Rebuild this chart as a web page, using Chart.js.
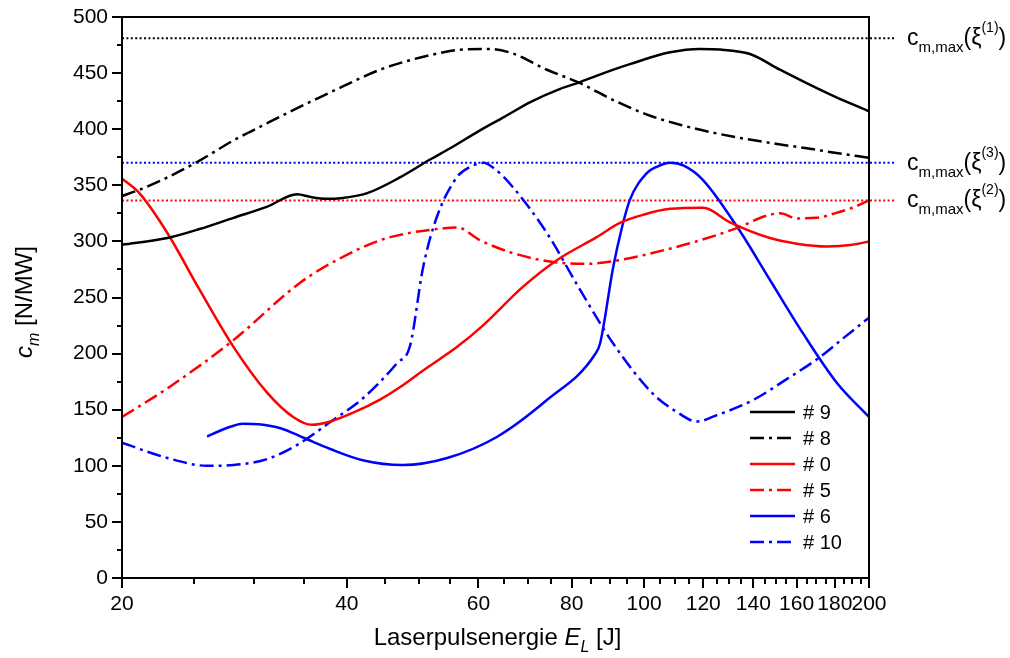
<!DOCTYPE html>
<html>
<head>
<meta charset="utf-8">
<script src="https://cdn.jsdelivr.net/npm/chart.js@4.4.1/dist/chart.umd.min.js"></script>
<style>
  html, body { margin: 0; padding: 0; background: #fff; }
</style>
</head>
<body>
<canvas id="chart" width="1010" height="658"></canvas>
<script>
const FONT = '"Liberation Sans", Arial, sans-serif';

// axis ticks
const xTicks = [20, 25, 30, 35, 40, 45, 50, 55, 60, 65, 70, 75, 80, 85, 90, 95, 100,
  105, 110, 115, 120, 125, 130, 135, 140, 145, 150, 155, 160, 165, 170, 175, 180,
  185, 190, 195, 200];
const xLabels = [20, 40, 60, 80, 100, 120, 140, 160, 180, 200];

// # 9
const e9 = [20, 23, 25.4, 28.2, 31.3, 34.3, 35.8, 37.6, 39.2, 42.6, 47.1, 51.7, 55, 60.3, 65, 70.3, 77.2, 82.1, 90, 95.7, 108.3, 118.8, 126.4, 138.6, 152, 165, 180, 200];
const c9 = [297, 303, 311, 321, 331, 342, 339.5, 338, 338.5, 343, 357, 373, 383, 399, 411, 424, 436, 442, 452, 458, 468.5, 471.5, 471, 467, 453, 441, 429, 416];
// # 8
const e8 = [20, 21.1, 23, 25.4, 28.2, 31, 33.9, 39.2, 44.3, 51.7, 57.2, 62.2, 66.7, 74.1, 82.1, 90.9, 100.9, 111.7, 122.5, 135, 150, 165, 180, 200];
const c8 = [340.5, 346, 357, 372, 390, 404, 417, 437, 453, 466, 471, 471.5, 467.5, 453, 441, 426, 413, 404, 397.5, 392, 387, 383, 379, 374.5];
// # 0
const e0 = [20, 21.1, 23, 25.4, 28.2, 31.3, 33.9, 35.9, 38, 41, 44.3, 47.1, 50.6, 56.2, 60.6, 68.8, 76.5, 86.5, 92.8, 100, 108.3, 120, 130.3, 147.4, 160, 175.7, 190, 200];
const c0 = [356, 343, 307.5, 257, 206, 165, 143.5, 136.5, 139.5, 148, 159, 170, 185, 206, 224, 259.5, 283.5, 304, 316.5, 324, 329, 330, 317, 303, 298, 295.5, 297, 300];
// # 5
const e5 = [20, 23, 28.2, 34.6, 39.2, 44.3, 48, 52.8, 56.2, 60.3, 66.7, 75.5, 83.9, 92.8, 106, 118.8, 134.4, 144.3, 152, 160.2, 170, 180, 190, 200];
const c5 = [143.5, 169, 212, 263, 285, 301, 307, 311, 312.5, 301, 289.6, 281.6, 280, 283.4, 292, 301, 313, 322, 325, 320.5, 321, 325, 330, 336.5];
// # 6
const e6 = [26, 27, 28, 29, 30.5, 32.6, 35, 38, 42, 47.5, 54.5, 63.5, 74.1, 86, 87.3, 90.9, 93.2, 95.7, 100.9, 104, 108.3, 113, 119.9, 133.2, 147.4, 163.2, 181.2, 200];
const c6 = [126, 131, 135, 137.5, 137, 133.5, 125, 115, 105, 100.7, 107, 125.7, 158.6, 199.6, 209, 277, 310, 337, 361, 366.5, 370, 367.5, 354.7, 313, 265.6, 218, 173.8, 143.5];
// # 10
const e10 = [20, 23, 26, 28.2, 31.3, 34.6, 38, 42, 46.7, 48.6, 50.6, 52.8, 56.2, 58.5, 60.9, 63, 66.7, 74.1, 82.1, 90.9, 102.8, 110, 117.7, 125, 139.9, 155, 172, 185, 200];
const c10 = [120.5, 107, 100, 100.7, 106, 120, 139, 160, 191.6, 207, 277, 322, 357.5, 366.5, 370, 365, 348.5, 307.5, 256.7, 209, 164, 149, 139.5, 145, 158.6, 177, 197, 214, 232];

// c_m,max reference levels, drawn past the right axis
const refE = [20, 217];
const cmax1 = 481;
const cmax3 = 370;
const cmax2 = 336.5;

const DASHDOT = [14, 5, 3, 5];
const DOTS = [2, 2.4];

function pts(xs, ys) {
  return xs.map((v, i) => ({ x: v, y: ys[i] }));
}
function curve(label, xs, ys, color, dash) {
  return {
    label: label, data: pts(xs, ys), borderColor: color, borderWidth: 2.5,
    borderDash: dash || [], pointRadius: 0, fill: false,
    cubicInterpolationMode: 'monotone'
  };
}
function refLine(val, color) {
  return {
    label: '', data: pts(refE, [val, val]), borderColor: color, borderWidth: 2,
    borderDash: DOTS, pointRadius: 0, fill: false, clip: false, isRef: true
  };
}

const datasets = [
  curve('# 9', e9, c9, '#000000'),
  curve('# 8', e8, c8, '#000000', DASHDOT),
  curve('# 0', e0, c0, '#ff0000'),
  curve('# 5', e5, c5, '#ff0000', DASHDOT),
  curve('# 6', e6, c6, '#0000ff'),
  curve('# 10', e10, c10, '#0000ff', DASHDOT),
  refLine(cmax1, '#000000'),
  refLine(cmax3, '#0000ff'),
  refLine(cmax2, '#ff0000')
];

function drawRuns(ctx, x, y, runs) {
  runs.forEach(r => {
    ctx.font = (r.italic ? 'italic ' : '') + r.size + 'px ' + FONT;
    ctx.fillText(r.t, x, y + (r.dy || 0));
    x += ctx.measureText(r.t).width;
  });
  return x;
}
function runsWidth(ctx, runs) {
  let w = 0;
  runs.forEach(r => {
    ctx.font = (r.italic ? 'italic ' : '') + r.size + 'px ' + FONT;
    w += ctx.measureText(r.t).width;
  });
  return w;
}

const decor = {
  id: 'decor',
  afterDraw(chart) {
    const { ctx, chartArea: a, scales: { x, y } } = chart;
    ctx.save();
    ctx.strokeStyle = '#000';
    ctx.lineWidth = 2;
    ctx.setLineDash([]);
    ctx.strokeRect(a.left, a.top, a.right - a.left, a.bottom - a.top);

    ctx.beginPath();
    x.ticks.forEach(t => {
      const px = Math.round(x.getPixelForValue(t.value));
      const len = xLabels.includes(t.value) ? 10 : 6;
      ctx.moveTo(px, a.bottom);
      ctx.lineTo(px, a.bottom + len);
    });
    y.ticks.forEach(t => {
      const py = Math.round(y.getPixelForValue(t.value));
      const len = t.value % 50 === 0 ? 10 : 5;
      ctx.moveTo(a.left - len, py);
      ctx.lineTo(a.left, py);
    });
    ctx.stroke();

    // legend inside the plot
    ctx.textBaseline = 'middle';
    chart.data.datasets.forEach((ds, i) => {
      if (ds.isRef) return;
      const yy = a.bottom - 166 + i * 26;
      ctx.strokeStyle = ds.borderColor;
      ctx.lineWidth = 2.5;
      ctx.setLineDash(ds.borderDash);
      ctx.beginPath();
      ctx.moveTo(a.right - 119, yy);
      ctx.lineTo(a.right - 74, yy);
      ctx.stroke();
      ctx.setLineDash([]);
      ctx.fillStyle = '#000';
      ctx.font = '20px ' + FONT;
      ctx.fillText(ds.label, a.right - 66, yy + 1);
    });

    // labels of the reference lines
    ctx.textBaseline = 'alphabetic';
    ctx.fillStyle = '#000';
    [[cmax1, '(1)'], [cmax3, '(3)'], [cmax2, '(2)']].forEach(([v, sup]) => {
      const py = y.getPixelForValue(v);
      drawRuns(ctx, a.right + 38, py, [
        { t: 'c', size: 23, dy: 7 },
        { t: 'm,max', size: 15, dy: 14 },
        { t: '(\u03be', size: 23, dy: 7 },
        { t: sup, size: 14, dy: -6 },
        { t: ')', size: 23, dy: 7 }
      ]);
    });

    // axis titles
    const xt = [
      { t: 'Laserpulsenergie ', size: 24 },
      { t: 'E', size: 24, italic: true },
      { t: 'L', size: 16, italic: true, dy: 7 },
      { t: ' [J]', size: 24 }
    ];
    drawRuns(ctx, (a.left + a.right) / 2 + 2 - runsWidth(ctx, xt) / 2, 645, xt);

    const yt = [
      { t: 'c', size: 24, italic: true },
      { t: 'm', size: 16, italic: true, dy: 7 },
      { t: ' [N/MW]', size: 24 }
    ];
    ctx.translate(32, 302);
    ctx.rotate(-Math.PI / 2);
    drawRuns(ctx, -runsWidth(ctx, yt) / 2, 0, yt);
    ctx.restore();
  }
};

function noPad(s) {
  s.paddingTop = 0;
  s.paddingBottom = 0;
  s.paddingLeft = 0;
  s.paddingRight = 0;
}

new Chart(document.getElementById('chart'), {
  type: 'line',
  data: { datasets: datasets },
  options: {
    responsive: false,
    animation: false,
    events: [],
    layout: { padding: { top: 17, right: 141, left: 0, bottom: 0 } },
    plugins: { legend: { display: false }, tooltip: { enabled: false } },
    scales: {
      x: {
        type: 'logarithmic',
        min: 20,
        max: 200,
        afterBuildTicks: s => { s.ticks = xTicks.map(v => ({ value: v })); },
        afterFit: s => { s.height = 80; noPad(s); },
        grid: { display: false, drawTicks: false },
        border: { display: false },
        ticks: {
          autoSkip: false, maxRotation: 0, minRotation: 0, padding: 14,
          color: '#000', font: { family: FONT, size: 21 },
          callback: v => xLabels.includes(v) ? String(v) : ''
        }
      },
      y: {
        min: 0,
        max: 500,
        afterFit: s => { s.width = 122; noPad(s); },
        grid: { display: false, drawTicks: false },
        border: { display: false },
        ticks: {
          stepSize: 25, autoSkip: false, padding: 14,
          color: '#000', font: { family: FONT, size: 21 },
          callback: v => v % 50 === 0 ? String(v) : ''
        }
      }
    }
  },
  plugins: [decor]
});
</script>
</body>
</html>
